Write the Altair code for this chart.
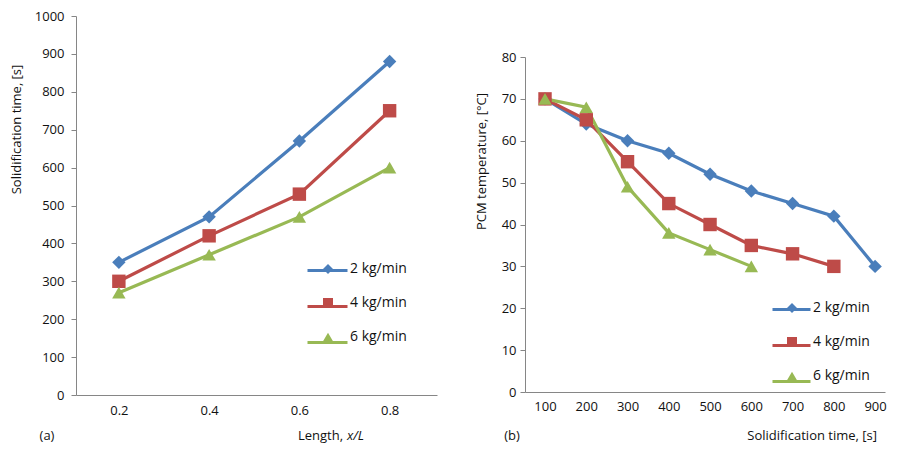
import altair as alt
import pandas as pd

# ---------------- data ----------------
series_names = ["2 kg/min", "4 kg/min", "6 kg/min"]

length = [0.2, 0.4, 0.6, 0.8]
a_2kg = [350, 470, 670, 880]
a_4kg = [300, 420, 530, 750]
a_6kg = [270, 370, 470, 600]

time_s = [100, 200, 300, 400, 500, 600, 700, 800, 900]
b_2kg = [70, 64, 60, 57, 52, 48, 45, 42, 30]
b_4kg = [70, 65, 55, 45, 40, 35, 33, 30]
b_6kg = [70, 68, 49, 38, 34, 30]

y_ticks_a = [0, 100, 200, 300, 400, 500, 600, 700, 800, 900, 1000]
y_ticks_b = [0, 10, 20, 30, 40, 50, 60, 70, 80]

colors = ["#4A7EBB", "#BE4B48", "#98B954"]
shapes = ["diamond", "square", "triangle-up"]

FONT = "Open Sans"
INK = "#111111"


def frame(xs, ys_list, xname, yname):
    rows = []
    for name, ys in zip(series_names, ys_list):
        for x, y in zip(xs, ys):
            rows.append({xname: x, yname: y, "series": name, "label": name})
    return pd.DataFrame(rows)


def text_layer(text, x, y, align="left", style="normal"):
    return alt.Chart(pd.DataFrame({"t": [text]})).mark_text(
        font=FONT, fontSize=13, color=INK, align=align,
        baseline="middle", fontStyle=style
    ).encode(x=alt.value(x), y=alt.value(y), text="t:N")


def panel(df, xname, yname, xscale, yscale, xaxis, yaxis, w, h,
          lx_line, half_len, lx_mark, lab_off, ly_line, ly_mark, extra):
    x = alt.X(f"{xname}:Q", scale=xscale, axis=xaxis)
    y = alt.Y(f"{yname}:Q", scale=yscale, axis=yaxis)
    k = half_len / 7.0
    leg_line = alt.Legend(
        orient="none", legendX=lx_line, legendY=ly_line, title=None,
        symbolType=f"M-{k:.3f},0L{k:.3f},0", symbolSize=196,
        symbolStrokeWidth=3, labelExpr="''", labelFont=FONT,
        labelFontSize=14, rowPadding=20, padding=0,
    )
    leg_mark = alt.Legend(
        orient="none", legendX=lx_mark, legendY=ly_mark, title=None,
        symbolSize=100, symbolStrokeWidth=0, labelFont=FONT,
        labelFontSize=14, labelColor=INK, labelOffset=lab_off,
        rowPadding=20, padding=0,
    )
    lines = alt.Chart(df).mark_line(strokeWidth=3.2).encode(
        x=x, y=y,
        stroke=alt.Stroke("series:N", scale=alt.Scale(range=colors),
                          legend=leg_line),
    )
    pts = alt.Chart(df).mark_point(filled=True, opacity=1, size=180,
                                   strokeWidth=0).encode(
        x=x, y=y,
        fill=alt.Fill("label:N", scale=alt.Scale(range=colors),
                      legend=leg_mark),
        shape=alt.Shape("label:N", scale=alt.Scale(range=shapes),
                        legend=leg_mark),
    )
    return alt.layer(lines, pts, *extra).properties(width=w, height=h)


df_a = frame(length, [a_2kg, a_4kg, a_6kg], "length", "time")
df_b = frame(time_s, [b_2kg, b_4kg, b_6kg], "t", "temp")

axis_common = dict(grid=False, domainColor="#868686", tickColor="#868686",
                   labelFont=FONT, labelFontSize=13, labelColor=INK,
                   titleFont=FONT, titleFontSize=13, titleFontWeight="normal",
                   titleColor=INK)

pa = panel(
    df_a, "length", "time",
    alt.Scale(domain=[0.105, 0.905], nice=False, zero=False),
    alt.Scale(domain=[0, 1000], nice=False),
    alt.Axis(values=length, format=".1f", ticks=False, labelPadding=9,
             title=None, **axis_common),
    alt.Axis(values=y_ticks_a, format="d", tickSize=5, labelPadding=7,
             title="Solidification time, [s]", titleX=-60, titleY=113,
             titleAngle=270, titleAlign="center", titleBaseline="middle",
             **axis_common),
    361, 379,
    243, 20, 245, 15, 246, 246,
    [text_layer("(a)", -29, 420, align="center"),
     text_layer("Length,", 222, 420),
     text_layer("x/L", 271, 420, style="italic")],
)

pb = panel(
    df_b, "t", "temp",
    alt.Scale(domain=[51.5, 924], nice=False, zero=False),
    alt.Scale(domain=[0, 80], range=[376, 41], nice=False),
    alt.Axis(values=time_s, format="d", ticks=False, labelPadding=8,
             title=None, **axis_common),
    alt.Axis(values=y_ticks_b, format="d", tickSize=5, labelPadding=4,
             title="PCM temperature, [°C]", titleX=-44, titleY=145,
             titleAngle=270, titleAlign="center", titleBaseline="middle",
             **axis_common),
    360, 376,
    258, 19, 260, 14, 285, 285,
    [text_layer("(b)", -13, 420, align="center"),
     text_layer("Solidification time, [s]", 352, 420, align="right")],
)

chart = alt.hconcat(pa, pb, spacing=38).resolve_scale(
    x="independent", y="independent", stroke="independent",
    fill="independent", shape="independent",
).resolve_legend(
    stroke="independent", fill="independent", shape="independent",
).properties(
    padding={"left": 2, "top": 2, "right": 0, "bottom": 0},
    background="white",
).configure_view(stroke=None)

chart.save("out.html", embed_options={"renderer": "svg", "actions": False})
